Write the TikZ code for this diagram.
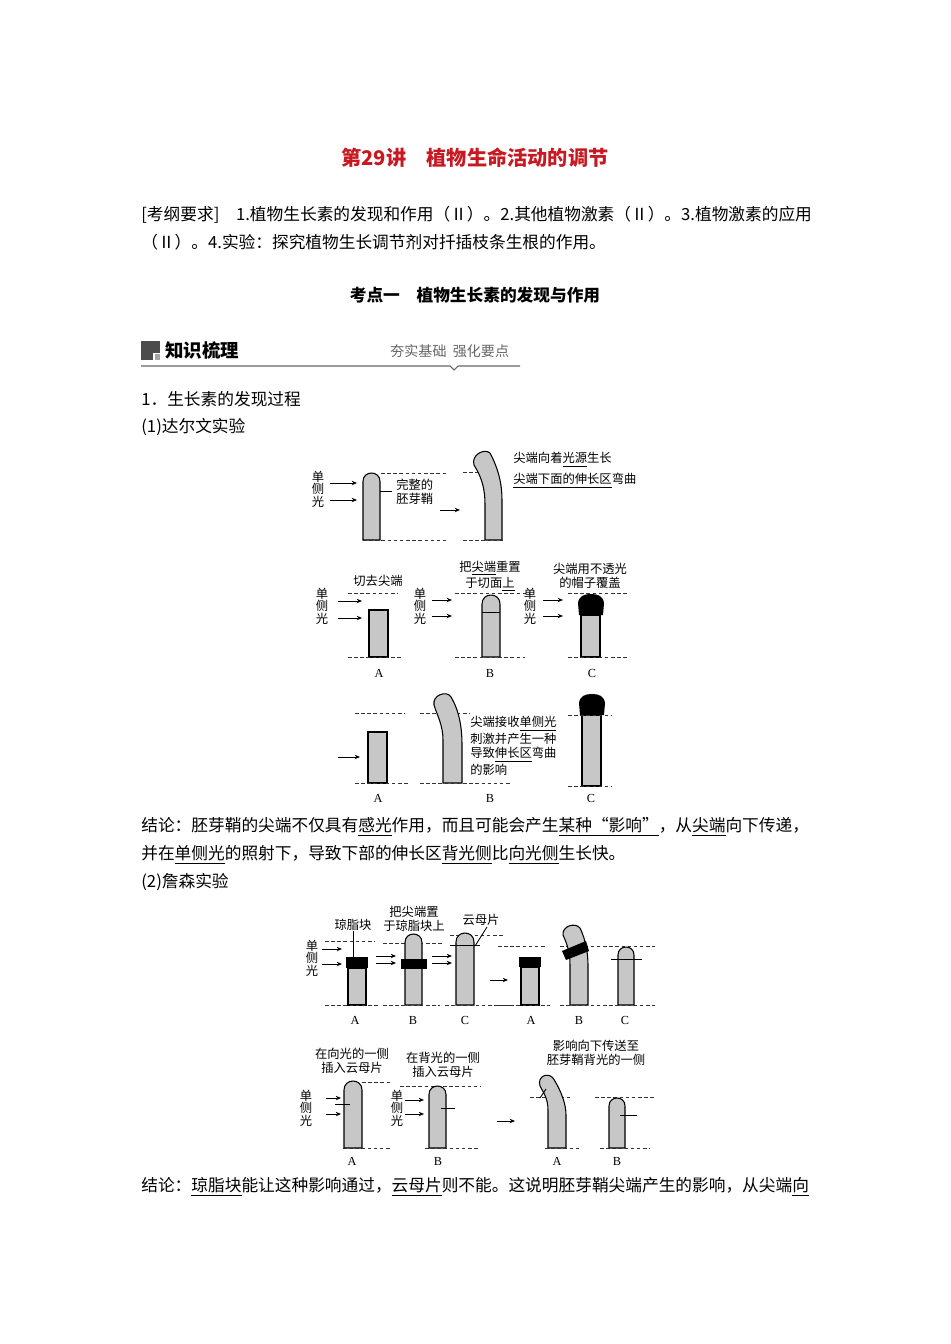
\documentclass[tikz,border=0pt]{standalone}
\usepackage{fontspec}
\setmainfont{Noto Sans CJK SC}
\newfontfamily\lat{Liberation Serif}
\usetikzlibrary{arrows.meta}
\definecolor{titlered}{RGB}{200,25,35}
\newcommand\ul[1]{\underline{#1}}
\newcommand\stemtop[4]{%
 \pgfmathsetmacro\hh{(#2-#1)/2}%
 \draw[stemst] (#1,#4) -- (#1,#3+\hh) .. controls (#1,#3-\hh/3) and (#2,#3-\hh/3) .. (#2,#3+\hh) -- (#2,#4) -- cycle;}
\newcommand\capblk[3]{% x1 x2 ytop ; bottom = ytop+21
 \fill[black] (#1+1,#3+21) -- (#1,#3+9) .. controls (#1+1,#3+2) and (#1+6,#3) .. ({(#1+#2)/2},#3) .. controls (#2-6,#3) and (#2-1,#3+2) .. (#2,#3+9) -- (#2-1,#3+21) -- cycle;}
\tikzset{
 stemst/.style={draw=black,fill=black!22,line width=0.6pt},
 dl/.style={dashed,dash pattern=on 2pt off 1.5pt,line width=0.4pt,black!80},
 la/.style={-{Stealth[length=3pt,width=2.5pt]},line width=0.5pt},
 body/.style={anchor=west,inner sep=0,font=\fontsize{9.5pt}{11pt}\selectfont},
 sm/.style={inner sep=0,font=\fontsize{7pt}{7.8pt}\selectfont},
 vl/.style={inner sep=0,align=center,font=\fontsize{7pt}{7.2pt}\selectfont},
 lab/.style={inner sep=0,font=\lat\fontsize{7pt}{8pt}\selectfont},
}
\begin{document}
\begin{tikzpicture}[x=0.02cm,y=-0.02cm]
\useasboundingbox[fill=white] (0,0) rectangle (950,1344);
% title
\node[inner sep=0,text=titlered,font=\bfseries\fontsize{11.5pt}{13pt}\selectfont] (title) at (475,158) {第29讲\quad 植物生命活动的调节};
\node[body] (req1) at (141,215) {[考纲要求]\quad 1.植物生长素的发现和作用（Ⅱ）。2.其他植物激素（Ⅱ）。3.植物激素的应用};
\node[body] (req2) at (141,242) {（Ⅱ）。4.实验：探究植物生长调节剂对扦插枝条生根的作用。};
\node[inner sep=0,font=\bfseries\fontsize{9.5pt}{11pt}\selectfont] (kd) at (475,295) {考点一\quad 植物生长素的发现与作用};
% header bar
\fill[black!70] (141,341) rectangle (160,360);
\fill[black!35] (153,353) rectangle (160,360);
\fill[white] (153,353) rectangle (154.5,360);
\fill[white] (153,353) rectangle (160,354.5);
\node[anchor=west,inner sep=0,font=\bfseries\fontsize{10.5pt}{12pt}\selectfont] (zs) at (165,350) {知识梳理};
\node[anchor=west,inner sep=0,text=black!60,font=\fontsize{8pt}{10pt}\selectfont] (hj) at (390,351) {夯实基础\ \ 强化要点};
\draw[black!60,line width=0.6pt] (141,366) -- (450,366) -- (454,370) -- (458,366) -- (520,366);
\node[body] (s1) at (141,399) {1．生长素的发现过程};
\node[body] (s11) at (141,427) {(1)达尔文实验};

% ===== Darwin row 1
\node[vl] (d1l) at (318,489) {单\\侧\\光};
\draw[la] (330,483) -- (357,483);
\draw[la] (330,500) -- (357,500);
\stemtop{363}{380}{473}{540}
\draw[dl] (381,473) -- (447,473);
\draw[dl] (363,540) -- (447,540);
\draw[line width=0.5pt] (380,491) -- (392,491);
\node[sm,align=left,anchor=west] (d1t) at (396,492) {完整的\\胚芽鞘};
\draw[la] (440,510) -- (460,510);
\draw[stemst] (485,540) -- (485,505) .. controls (485,485) and (480,475) .. (474,465) .. controls (471,455) and (484,448) .. (490,453) .. controls (499,470) and (502,485) .. (502,500) -- (502,540) -- cycle;
\draw[dl] (463,472) -- (478,472);
\draw[dl] (463,540) -- (505,540);
\node[sm,anchor=west] (d1r1) at (513,460) {尖端向着\ul{光源}生长};
\node[sm,anchor=west] (d1r2) at (513,481) {\ul{尖端下面的伸长区}弯曲};

% ===== Darwin row 2
\node[vl] (d2la) at (322,606) {单\\侧\\光};
\draw[la] (338,601) -- (362,601);
\draw[la] (338,618) -- (362,618);
\node[sm] (d2ta) at (378,581) {切去尖端};
\draw[dl] (348,593) -- (398,593);
\draw[stemst] (369,610) rectangle (388,657);
\draw[dl] (348,657) -- (403,657);
\node[lab] (d2A) at (379,673) {A};

\node[vl] (d2lb) at (420,606) {单\\侧\\光};
\draw[la] (432,600) -- (452,600);
\draw[la] (432,616) -- (452,616);
\node[sm,align=center] (d2tb) at (490,576) {把\ul{尖端}重置\\于切面\ul{上}};
\draw[dl] (455,593) -- (530,593);
\stemtop{482}{500}{595}{657}
\draw[line width=0.5pt] (482,612) -- (500,612);
\draw[dl] (455,657) -- (525,657);
\node[lab] (d2B) at (490,673) {B};

\node[vl] (d2lc) at (530,606) {单\\侧\\光};
\draw[la] (543,600) -- (563,600);
\draw[la] (543,616) -- (563,616);
\node[sm,align=center] (d2tc) at (590,576) {尖端用不透光\\的帽子覆盖};
\draw[dl] (568,593) -- (628,593);
\draw[stemst] (581,615) rectangle (600,657);
\capblk{578}{604}{594}
\draw[dl] (568,657) -- (628,657);
\node[lab] (d2C) at (592,673) {C};

% ===== Darwin row 3
\draw[dl] (355,713) -- (405,713);
\draw[stemst] (368,732) rectangle (387,783);
\draw[la] (338,757) -- (360,757);
\draw[dl] (355,783) -- (408,783);
\node[lab] (d3A) at (378,798) {A};

\draw[dl] (420,713) -- (470,713);
\draw[stemst] (443,783) -- (443,740) .. controls (443,725) and (437,715) .. (434,705) .. controls (432,695) and (447,690) .. (451,697) .. controls (460,712) and (462,730) .. (462,745) -- (462,783) -- cycle;
\draw[dl] (420,783) -- (510,783);
\node[sm,anchor=north west,align=left,font=\fontsize{7pt}{8.3pt}\selectfont] (d3t) at (470,716) {尖端接收\ul{单侧光}\\刺激并产生一种\\导致\ul{伸长区}弯曲\\的影响};
\node[lab] (d3B) at (490,798) {B};

\draw[stemst] (582,715) rectangle (601,786);
\capblk{579}{605}{694}
\draw[dl] (568,715) -- (612,715);
\draw[dl] (568,786) -- (612,786);
\node[lab] (d3C) at (591,798) {C};

% conclusion 1
\node[body] (c1a) at (141,827) {结论：胚芽鞘的尖端不仅具有\ul{感光}作用，而且可能会产生\ul{某种“影响”}，从\ul{尖端}向下传递，};
\node[body] (c1b) at (141,855) {并在\ul{单侧光}的照射下，导致下部的伸长区\ul{背光侧}比\ul{向光侧}生长快。};
\node[body] (s12) at (141,882) {(2)詹森实验};

% ===== Jensen row 1
\node[vl] (j1l) at (312,958) {单\\侧\\光};
\draw[la] (322,949) -- (342,949);
\draw[la] (322,964) -- (342,964);
\node[sm] (j1ta) at (353,925) {琼脂块};
\draw[dl] (325,941) -- (375,941);
\draw[stemst] (348,968) rectangle (366,1005);
\fill[black] (346,957) rectangle (368,968);
\draw[line width=0.5pt] (353,931) -- (353,957);
\draw[dl] (325,1005) -- (380,1005);
\node[lab] (j1A) at (355,1020) {A};

\draw[la] (376,956) -- (396,956);
\draw[la] (376,963) -- (396,963);
\node[sm,align=center] (j1tb) at (414,919) {把尖端置\\于琼脂块上};
\draw[dl] (383,943) -- (442,943);
\stemtop{405}{422}{934}{1005}
\fill[black] (401,959) rectangle (427,969);
\draw[dl] (383,1005) -- (440,1005);
\node[lab] (j1B) at (413,1020) {B};

\draw[la] (432,956) -- (452,956);
\draw[la] (432,963) -- (452,963);
\draw[dl] (450,935) -- (505,935);
\stemtop{456}{474}{933}{1005}
\draw[line width=0.5pt] (450,945) -- (480,945);
\node[sm] (j1tc) at (481,920) {云母片};
\draw[line width=0.5pt] (487,927) -- (475,946);
\draw[dl] (445,1005) -- (510,1005);
\node[lab] (j1C) at (465,1020) {C};

\draw[la] (490,980) -- (508,980);

\draw[dl] (498,946) -- (545,946);
\draw[stemst] (521,967) rectangle (539,1005);
\fill[black] (519,957) rectangle (541,967);
\draw[dl] (498,1005) -- (550,1005);
\node[lab] (j1A2) at (531,1020) {A};

\draw[dl] (560,946) -- (655,946);
\draw[stemst] (570,1005) -- (570,965) .. controls (570,950) and (566,942) .. (563,935) .. controls (562,926) and (575,922) .. (580,928) .. controls (586,940) and (588,955) .. (588,965) -- (588,1005) -- cycle;
\fill[black] (562,951) -- (586,941) -- (589,951) -- (566,960) -- cycle;
\node[lab] (j1B2) at (579,1020) {B};

\stemtop{618}{634}{947}{1005}
\draw[line width=0.5pt] (611,959) -- (642,959);
\draw[dl] (560,1005) -- (655,1005);
\node[lab] (j1C2) at (625,1020) {C};

% ===== Jensen row 2
\node[sm,align=center] (j2ta) at (352,1061) {在向光的一侧\\插入云母片};
\node[vl] (j2la) at (306,1108) {单\\侧\\光};
\draw[la] (326,1098) -- (341,1098);
\draw[la] (326,1114) -- (341,1114);
\draw[dl] (362,1082) -- (390,1082);
\stemtop{344}{362}{1081}{1148}
\draw[line width=0.5pt] (335,1104) -- (350,1104);
\draw[dl] (343,1148) -- (392,1148);
\node[lab] (j2A) at (352,1161) {A};

\node[sm,align=center] (j2tb) at (443,1065) {在背光的一侧\\插入云母片};
\node[vl] (j2lb) at (397,1108) {单\\侧\\光};
\draw[la] (405,1100) -- (424,1100);
\draw[la] (405,1114) -- (424,1114);
\draw[dl] (400,1086) -- (480,1086);
\stemtop{429}{446}{1086}{1148}
\draw[line width=0.5pt] (441,1108) -- (455,1108);
\draw[dl] (425,1148) -- (480,1148);
\node[lab] (j2B) at (438,1161) {B};

\draw[la] (497,1121) -- (515,1121);
\node[sm,align=center] (j2tc) at (596,1053) {影响向下传送至\\胚芽鞘背光的一侧};

\draw[dl] (530,1097) -- (570,1097);
\draw[stemst] (548,1148) -- (548,1110) .. controls (548,1098) and (543,1092) .. (540,1086) .. controls (537,1076) and (548,1072) .. (553,1078) .. controls (562,1092) and (566,1105) .. (566,1115) -- (566,1148) -- cycle;
\draw[line width=0.5pt] (540,1098) -- (546,1089);
\draw[dl] (545,1148) -- (580,1148);
\node[lab] (j2A2) at (557,1161) {A};

\draw[dl] (595,1097) -- (655,1097);
\stemtop{609}{625}{1098}{1148}
\draw[line width=0.5pt] (620,1115) -- (637,1115);
\draw[dl] (600,1148) -- (650,1148);
\node[lab] (j2B2) at (617,1161) {B};

\node[body] (c2) at (141,1187) {结论：\ul{琼脂块}能让这种影响通过，\ul{云母片}则不能。这说明胚芽鞘尖端产生的影响，从尖端\ul{向}};
\end{tikzpicture}
\end{document}
